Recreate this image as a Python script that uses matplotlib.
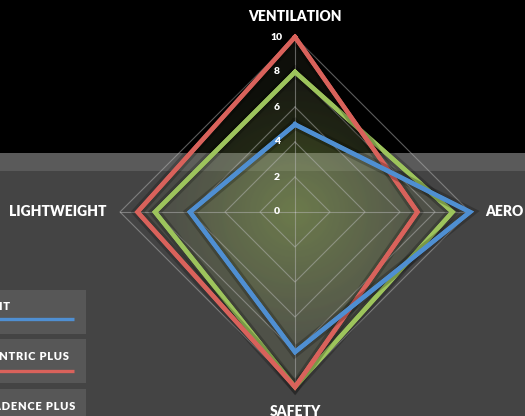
import numpy as np
import matplotlib.pyplot as plt
import matplotlib.patheffects as pe
from matplotlib.patches import Polygon, Rectangle

plt.rcParams['font.family'] = ['Lato', 'DejaVu Sans']

# data
categories = ['VENTILATION', 'AERO', 'SAFETY', 'LIGHTWEIGHT']
names = ['CIRCUIT', 'CENTRIC PLUS', 'CADENCE PLUS']
circuit = [5, 10, 8, 6]
centric = [10, 7, 10, 9]
cadence = [8, 9, 10, 8]
rings = [2, 4, 6, 8, 10]
tick_vals = [0, 2, 4, 6, 8, 10]
tick_labels = ['0', '2', '4', '6', '8', '10']

colors = ['#4f8fd2', '#d9625b', '#9dc45c']
series = [circuit, centric, cadence]

angles = np.deg2rad([0, 90, 180, 270])


def to_xy(vals):
    v = np.append(vals, vals[0])
    a = np.append(angles, angles[0])
    return v * np.sin(a), v * np.cos(a)


def spaced(s):
    # rough letter tracking
    return '\u200a'.join(s)


fig = plt.figure(figsize=(5.25, 4.16), dpi=100, facecolor='#444444')

# page background (pixel coords)
bg = fig.add_axes([0, 0, 1, 1])
bg.set_xlim(0, 525)
bg.set_ylim(416, 0)
bg.axis('off')
bg.add_patch(Rectangle((0, 0), 525, 153, color='black', lw=0))
bg.add_patch(Rectangle((0, 153), 525, 18, color='#5a5a5a', lw=0))

# legend boxes, cut off at the left edge like the original
box_tops = [290, 339, 389]
text_ends = [10, 69, 75]
text_y = [307, 357, 407]
line_y = [319, 371, 423]
for i in range(3):
    bg.add_patch(Rectangle((-5, box_tops[i]), 91, 44, color='#575757', lw=0))
    bg.plot([-5, 74], [line_y[i], line_y[i]], color=colors[i], lw=2.4,
            solid_capstyle='butt')
    bg.text(text_ends[i], text_y[i], spaced(names[i]), ha='right', va='center',
            color='white', fontsize=8, fontweight='heavy')

# radar chart
ax = fig.add_axes([85 / 525, -6 / 416, 420 / 525, 420 / 416])
ax.patch.set_alpha(0)
ax.axis('off')

# gradient fill for each series
xs = np.linspace(-10.5, 10.5, 500)
X, Y = np.meshgrid(xs, xs)
R = np.hypot(X, Y)
t = np.clip(R / 7, 0, 1)[..., None]
c0 = np.array([195, 240, 95]) / 255
c1 = np.array([120, 130, 90]) / 255
rgba = np.dstack([c0 + (c1 - c0) * t, np.full(R.shape, 0.125)])

for vals in series:
    x, y = to_xy(vals)
    poly = Polygon(np.column_stack([x, y]), closed=True, facecolor='none',
                   edgecolor='none', transform=ax.transData)
    ax.add_patch(poly)
    im = ax.imshow(rgba, extent=[-10.5, 10.5, -10.5, 10.5], origin='lower',
                   aspect='auto', zorder=1, interpolation='bilinear')
    im.set_clip_path(poly)

# grid
for r in rings:
    x, y = to_xy([r] * 4)
    ax.plot(x, y, color='#b8b8b8', lw=0.8, alpha=0.5, zorder=2)
for a in angles:
    ax.plot([0, 10 * np.sin(a)], [0, 10 * np.cos(a)], color='#b8b8b8',
            lw=0.8, alpha=0.5, zorder=2)

for v, lab in zip(tick_vals, tick_labels):
    ax.text(-1.03, v, lab, ha='center', va='center', color='white',
            fontsize=7.5, fontweight='heavy', zorder=5)

# series lines
for vals, col in list(zip(series, colors))[::-1]:
    x, y = to_xy(vals)
    ax.plot(x, y, color=col, lw=3.2, zorder=4, solid_joinstyle='miter',
            path_effects=[pe.withStroke(linewidth=7.5, foreground=(0, 0, 0, 0.22)),
                          pe.Normal()])

# category labels
lab_kw = dict(color='white', fontsize=10, fontweight='heavy')
ax.text(0, 10.8, categories[0], ha='center', va='bottom', **lab_kw)
ax.text(10.86, 0, categories[1], ha='left', va='center', **lab_kw)
ax.text(0, -11.05, categories[2], ha='center', va='top', **lab_kw)
ax.text(-10.8, 0, categories[3], ha='right', va='center', **lab_kw)

ax.set_xlim(-12, 12)
ax.set_ylim(-12, 12)

fig.savefig('out.png', dpi=100, facecolor=fig.get_facecolor())
